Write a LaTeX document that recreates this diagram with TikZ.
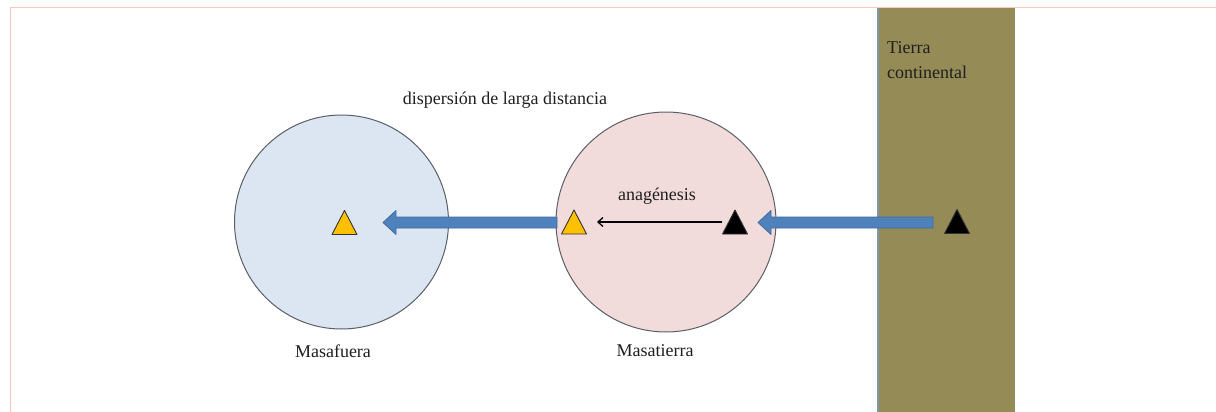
\documentclass[tikz,border=0pt]{standalone}
\usepackage{fontspec}
\setmainfont{Liberation Serif}
\usetikzlibrary{arrows.meta,calc}
\definecolor{framec}{HTML}{F8C8BA}
\definecolor{olive}{HTML}{958B56}
\definecolor{edgec}{HTML}{7F95A8}
\definecolor{bluec}{HTML}{DCE6F2}
\definecolor{pinkc}{HTML}{F2DCDB}
\definecolor{arrowc}{HTML}{4F81BD}
\definecolor{arrowdark}{HTML}{3F6D9E}
\definecolor{yellowc}{HTML}{FFC000}
\definecolor{circedge}{HTML}{5A5F66}
\tikzset{
  island/.style={circle, draw=circedge, line width=1pt, inner sep=0pt},
  lbl/.style={font=\fontsize{18}{25}\selectfont, text=black!88, inner sep=0pt},
  bigarrow/.style={fill=arrowc, draw=arrowdark, line width=0.8pt, line join=round},
  thinarrow/.style={draw=black, line width=1.3pt, -{Straight Barb[length=5pt, width=9pt]}},
}
\newcommand\mytri[4]{%
  \coordinate (#1) at (#2,#3);
  \filldraw[fill=#4, draw=black!80, line width=0.9pt, line join=round]
    (#1) ++(-12.5,12) -- ++(25,0) -- ++(-12.5,-24) -- cycle;}
\newcommand\myblockarrow[2]{%
  \filldraw[bigarrow] ($(#1)+(0,-5.5)$) -- ($(#2)+(13,-5.5)$) -- ($(#2)+(13,-12)$)
    -- (#2) -- ($(#2)+(13,12)$) -- ($(#2)+(13,5.5)$) -- ($(#1)+(0,5.5)$) -- cycle;}
\begin{document}
\begin{tikzpicture}[x=1pt,y=-1pt]
\useasboundingbox (0,0) rectangle (1216,412);
\fill[white] (0,0) rectangle (1216,412);
% frame
\draw[framec, line width=1.6pt] (10.5,412) -- (10.5,7.5) -- (1216,7.5);
% mainland
\fill[olive] (878,8.5) rectangle (1015,412);
\draw[edgec, line width=2.2pt] (878,8.5) -- (878,412);
\node[lbl, anchor=north west, align=left] (tierra) at (887,41) {Tierra\\continental};
% islands
\node[island, fill=bluec, minimum size=214pt] (masafuera) at (341.5,222) {};
\node[island, fill=pinkc, minimum size=220pt] (masatierra) at (666,222) {};
\node[lbl] (lblfuera) at (333,351) {Masafuera};
\node[lbl] (lbltierra) at (655,351) {Masatierra};
\node[lbl] (disp) at (505,100) {dispersión de larga distancia};
\node[lbl] (ana) at (657,196) {anagénesis};
% triangles
\mytri{ya}{344.5}{222.5}{yellowc}
\mytri{yb}{574}{222}{yellowc}
\mytri{ka}{735}{222}{black}
\mytri{kb}{957}{221.5}{black}
% arrows
\coordinate (a1s) at (557,222.5);
\coordinate (a1e) at (383,222.5);
\coordinate (a2s) at (933,222.5);
\coordinate (a2e) at (758,222.5);
\myblockarrow{a1s}{a1e}
\myblockarrow{a2s}{a2e}
\draw[thinarrow] ([xshift=-13pt]ka) -- ([xshift=23pt]yb);
\end{tikzpicture}
\end{document}
